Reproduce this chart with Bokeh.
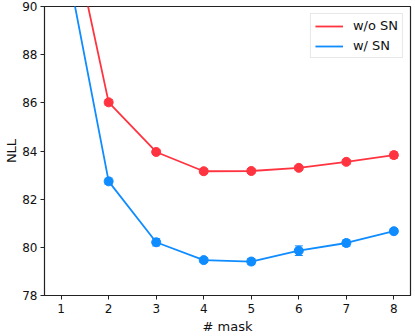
from bokeh.plotting import figure
from bokeh.models import ColumnDataSource, Whisker, Legend, LegendItem, FixedTicker, Range1d
from bokeh.embed import file_html
from bokeh.resources import INLINE

masks = [1, 2, 3, 4, 5, 6, 7, 8]
nll_wo_sn = [95.2, 86.02, 83.96, 83.16, 83.17, 83.30, 83.55, 83.83]
err_wo_sn = [0.10, 0.12, 0.10, 0.10, 0.10, 0.10, 0.10, 0.13]
nll_w_sn = [93.0, 82.74, 80.21, 79.47, 79.41, 79.86, 80.18, 80.67]
err_w_sn = [0.10, 0.13, 0.15, 0.10, 0.13, 0.20, 0.13, 0.10]
x_ticks = [1, 2, 3, 4, 5, 6, 7, 8]
y_ticks = [78, 80, 82, 84, 86, 88, 90]

RED = "#ff3440"
BLUE = "#0f8cff"
FONT = "DejaVu Sans"

p = figure(width=415, height=336, output_backend="svg", toolbar_location=None,
           x_range=Range1d(0.65, 8.35), y_range=Range1d(78, 90),
           min_border_left=44, min_border_right=5, min_border_top=6, min_border_bottom=40)
p.xgrid.visible = False
p.ygrid.visible = False
p.outline_line_color = "#222222"
p.outline_line_width = 1.2

for ax in (p.xaxis[0], p.yaxis[0]):
    ax.major_tick_in = 0
    ax.major_tick_out = 4
    ax.minor_tick_line_color = None
    ax.axis_line_color = "#222222"
    ax.major_tick_line_color = "#222222"
    ax.major_label_text_font = FONT
    ax.major_label_text_font_size = "12px"
    ax.major_label_text_color = "#111111"
    ax.axis_label_text_font = FONT
    ax.axis_label_text_font_size = "13px"
    ax.axis_label_text_font_style = "normal"
    ax.axis_label_text_color = "#111111"

p.xaxis.ticker = FixedTicker(ticks=x_ticks)
p.yaxis.ticker = FixedTicker(ticks=y_ticks)
p.xaxis.axis_label = "# mask"
p.yaxis.axis_label = "NLL"
p.xaxis.major_label_standoff = 4
p.xaxis.axis_label_standoff = 3
p.yaxis.major_label_standoff = 3
p.yaxis.axis_label_standoff = 0

items = []
for vals, errs, col, name in ((nll_wo_sn, err_wo_sn, RED, "w/o SN"), (nll_w_sn, err_w_sn, BLUE, "w/ SN")):
    src = ColumnDataSource(dict(x=masks, y=vals,
                                lo=[v - e for v, e in zip(vals, errs)],
                                hi=[v + e for v, e in zip(vals, errs)]))
    ln = p.line("x", "y", source=src, line_color=col, line_width=1.8)
    p.scatter("x", "y", source=src, size=9, fill_color=col, line_color=col)
    w = Whisker(source=src, base="x", lower="lo", upper="hi", line_color=col, line_width=1.5)
    w.upper_head.line_color = col
    w.lower_head.line_color = col
    w.upper_head.size = 8
    w.lower_head.size = 8
    p.add_layout(w)
    items.append(LegendItem(label=name, renderers=[ln]))

leg = Legend(items=items, location="top_right")
leg.label_text_font = FONT
leg.label_text_font_size = "13px"
leg.label_text_color = "#111111"
leg.glyph_width = 28
leg.glyph_height = 14
leg.label_standoff = 10
leg.spacing = 5
leg.padding = 4
leg.margin = 7
leg.border_line_color = "#d0d0d0"
leg.border_line_width = 1
leg.background_fill_alpha = 0.9
leg.label_height = 14
p.add_layout(leg)

open("out.html", "w").write(file_html(p, INLINE))
